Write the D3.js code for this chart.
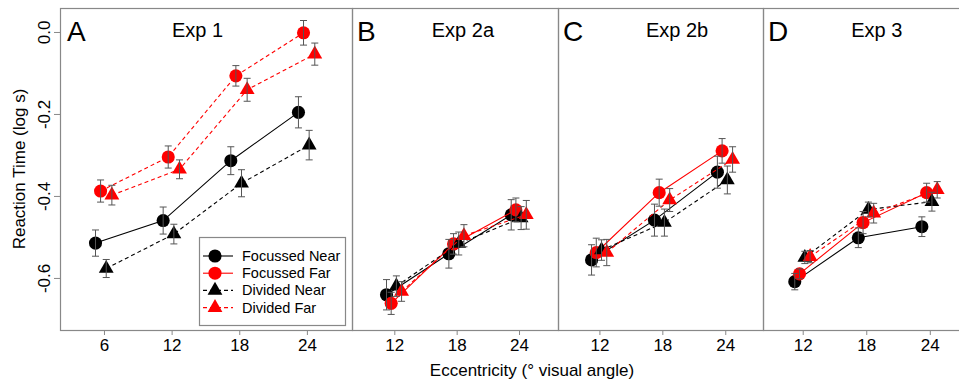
<!DOCTYPE html>
<html>
<head>
<meta charset="utf-8">
<script src="https://cdn.jsdelivr.net/npm/d3@7"></script>
<style>
  body { margin: 0; background: #fff; }
  text { font-family: "Liberation Sans", Arial, Helvetica, sans-serif; fill: #000; }
</style>
</head>
<body>
<div id="chart"></div>
<script>
// panels
var panelTitles = ["Exp 1", "Exp 2a", "Exp 2b", "Exp 3"];
var panelLetters = ["A", "B", "C", "D"];
var eccentricity = [[6, 12, 18, 24], [12, 18, 24], [12, 18, 24], [12, 18, 24]];
var xTicks = [[6, 12, 18, 24], [12, 18, 24], [12, 18, 24], [12, 18, 24]];
var yTicks = [0.0, -0.2, -0.4, -0.6];

// series: mean log RT and error per panel
var seriesNames = ["Focussed Near", "Focussed Far", "Divided Near", "Divided Far"];
var focNear    = [[-0.515, -0.460, -0.314, -0.196], [-0.641, -0.541, -0.446], [-0.556, -0.459, -0.342], [-0.609, -0.502, -0.475]];
var focNearErr = [[0.032, 0.033, 0.034, 0.038], [0.037, 0.035, 0.037], [0.037, 0.039, 0.039], [0.020, 0.024, 0.024]];
var focFar     = [[-0.388, -0.305, -0.107, -0.002], [-0.662, -0.517, -0.434], [-0.538, -0.392, -0.290], [-0.590, -0.465, -0.392]];
var focFarErr  = [[0.027, 0.027, 0.025, 0.030], [0.027, 0.025, 0.029], [0.035, 0.033, 0.030], [0.012, 0.027, 0.023]];
var divNear    = [[-0.577, -0.493, -0.369, -0.276], [-0.620, -0.516, -0.454], [-0.532, -0.465, -0.361], [-0.550, -0.433, -0.414]];
var divNearErr = [[0.022, 0.024, 0.033, 0.036], [0.025, 0.028, 0.028], [0.025, 0.033, 0.034], [0.015, 0.018, 0.023]];
var divFar     = [[-0.398, -0.335, -0.141, -0.054], [-0.633, -0.497, -0.446], [-0.538, -0.410, -0.311], [-0.548, -0.442, -0.385]];
var divFarErr  = [[0.024, 0.023, 0.028, 0.027], [0.024, 0.027, 0.035], [0.032, 0.028, 0.031], [0.015, 0.024, 0.020]];

var seriesValues = [focNear, focFar, divNear, divFar];
var seriesErrors = [focNearErr, focFarErr, divNearErr, divFarErr];

// styles
var seriesColor = ["#000", "#ff0000", "#000", "#ff0000"];
var seriesShape = ["circle", "circle", "triangle", "triangle"];
var seriesDodge = [-0.75, -0.3, 0.2, 0.7];
// dash per panel (Exp 1 focussed far is dashed)
var seriesDash = [
  [null, "4,3", "4,3", "4,3"],
  [null, null, "4,3", "4,3"],
  [null, null, "4,3", "4,3"],
  [null, null, "4,3", "4,3"]
];

var width = 959, height = 384;
var panelLeft = [60, 352, 558, 763];
var panelRight = [352, 558, 763, 969];
var xDomains = [[2.1, 28], [7.93, 27.75], [8.05, 27.6], [8.25, 27.7]];
var plotTop = 8, plotBottom = 330;
var frameColor = "#888";

var svg = d3.select('#chart').append('svg')
  .attr('width', width).attr('height', height);

var y = d3.scaleLinear().domain([0.0585, -0.727]).range([plotTop, plotBottom]);

var symCircle = d3.symbol().type(d3.symbolCircle).size(135);
var symTri = d3.symbol().type(d3.symbolTriangle).size(95);

panelTitles.forEach(function (title, p) {
  var x = d3.scaleLinear().domain(xDomains[p]).range([panelLeft[p], panelRight[p]]);
  var g = svg.append('g');

  // x axis
  var xAxis = g.append('g').attr('transform', 'translate(0,' + plotBottom + ')')
    .call(d3.axisBottom(x).tickValues(xTicks[p]).tickSize(5).tickPadding(4).tickFormat(d3.format('d')));
  xAxis.select('.domain').remove();
  xAxis.selectAll('line').attr('stroke', frameColor);
  xAxis.selectAll('text').attr('font-size', 17).attr('font-family', '"Liberation Sans", Arial, sans-serif').attr('fill', '#000');

  // frame
  g.append('rect').attr('x', panelLeft[p] + 0.5).attr('y', plotTop + 0.5)
    .attr('width', panelRight[p] - panelLeft[p]).attr('height', plotBottom - plotTop)
    .attr('fill', 'none').attr('stroke', frameColor).attr('stroke-width', 1.2);

  g.append('text').attr('x', panelLeft[p] + (p === 0 ? 7 : 5)).attr('y', 41)
    .attr('font-size', 28).text(panelLetters[p]);
  var titleX = [14.3, 18.6, 19.4, 19.0];
  g.append('text').attr('x', x(titleX[p])).attr('y', 37)
    .attr('text-anchor', 'middle').attr('font-size', 20).text(title);

  // series
  seriesNames.forEach(function (name, s) {
    var pts = eccentricity[p].map(function (e, i) {
      return { x: e + seriesDodge[s], v: seriesValues[s][p][i], err: seriesErrors[s][p][i] };
    });
    var line = d3.line().x(function (d) { return x(d.x); }).y(function (d) { return y(d.v); });
    g.append('path').datum(pts).attr('d', line)
      .attr('fill', 'none').attr('stroke', seriesColor[s]).attr('stroke-width', 1.1)
      .attr('stroke-dasharray', seriesDash[p][s]);
    g.selectAll('.pt' + s).data(pts).enter().append('path')
      .attr('transform', function (d) { return 'translate(' + x(d.x) + ',' + y(d.v) + ')'; })
      .attr('d', seriesShape[s] === 'circle' ? symCircle() : symTri())
      .attr('fill', seriesColor[s]);
  });

  // error bars on top
  seriesNames.forEach(function (name, s) {
    var pts = eccentricity[p].map(function (e, i) {
      return { x: e + seriesDodge[s], v: seriesValues[s][p][i], err: seriesErrors[s][p][i] };
    });
    var eb = g.selectAll('.eb' + s).data(pts).enter().append('g').attr('stroke', '#555').attr('stroke-width', 1);
    eb.append('line')
      .attr('x1', function (d) { return x(d.x); }).attr('x2', function (d) { return x(d.x); })
      .attr('y1', function (d) { return y(d.v + d.err); }).attr('y2', function (d) { return y(d.v - d.err); });
    [1, -1].forEach(function (sg) {
      eb.append('line')
        .attr('x1', function (d) { return x(d.x) - 3.5; }).attr('x2', function (d) { return x(d.x) + 3.5; })
        .attr('y1', function (d) { return y(d.v + sg * d.err); }).attr('y2', function (d) { return y(d.v + sg * d.err); });
    });
  });
});

// y axis (panel A only)
var yAxis = svg.append('g').attr('transform', 'translate(' + panelLeft[0] + ',0)')
  .call(d3.axisLeft(y).tickValues(yTicks).tickSize(6).tickFormat(d3.format('.1f')));
yAxis.select('.domain').remove();
yAxis.selectAll('line').attr('stroke', frameColor);
yAxis.selectAll('text').remove();
yAxis.selectAll('.tick').append('text')
  .attr('transform', 'translate(-10,0) rotate(-90)')
  .attr('text-anchor', 'middle').attr('font-size', 17)
  .attr('font-family', '"Liberation Sans", Arial, sans-serif').attr('fill', '#000')
  .text(function (d) { return d3.format('.1f')(d).replace('-0.0', '0.0').replace('\u2212', '-'); });

svg.append('text').attr('transform', 'translate(25,' + ((plotTop + plotBottom) / 2) + ') rotate(-90)')
  .attr('text-anchor', 'middle').attr('font-size', 17).text('Reaction Time (log s)');
svg.append('text').attr('x', 532).attr('y', 376)
  .attr('text-anchor', 'middle').attr('font-size', 17).text('Eccentricity (\u00b0 visual angle)');

// legend
var lg = svg.append('g').attr('transform', 'translate(199,237)');
lg.append('rect').attr('x', 0.5).attr('y', 0.5).attr('width', 146).attr('height', 88)
  .attr('fill', '#fff').attr('stroke', frameColor).attr('stroke-width', 1.2);
seriesNames.forEach(function (name, s) {
  var ly = 19 + s * 17.2;
  lg.append('line').attr('x1', 4).attr('x2', 34).attr('y1', ly).attr('y2', ly)
    .attr('stroke', seriesColor[s]).attr('stroke-width', 1.1)
    .attr('stroke-dasharray', s >= 2 ? '4,3' : null);
  lg.append('path').attr('transform', 'translate(16,' + ly + ')')
    .attr('d', seriesShape[s] === 'circle' ? symCircle() : symTri())
    .attr('fill', seriesColor[s]);
  lg.append('text').attr('x', 43).attr('y', ly + 5).attr('font-size', 14.5).text(name);
});
</script>
</body>
</html>
